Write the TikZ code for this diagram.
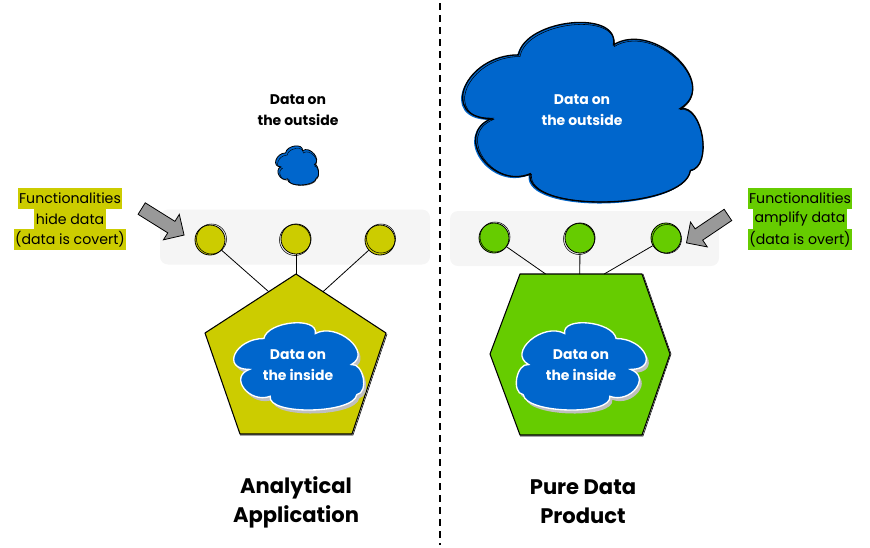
\documentclass[tikz,border=0pt]{standalone}
\usepackage{fontspec}
\setmainfont{Poppins}
\usetikzlibrary{shapes.arrows,calc}
\definecolor{ylw}{HTML}{CCCC00}
\definecolor{grn}{HTML}{66CC00}
\definecolor{dblue}{HTML}{0066CC}
\definecolor{panel}{HTML}{F5F5F5}
\definecolor{arrg}{HTML}{999999}
\def\cloudpath{(-0.773,0.067) .. controls (-1.228,0.067) and (-1.0,-0.644) .. (-0.545,-0.644)
 .. controls (-0.492,-1.044) and (0.317,-1.157) .. (0.264,-0.757)
 .. controls (0.607,-1.03) and (1.175,-0.318) .. (0.832,-0.045)
 .. controls (1.025,-0.088) and (1.111,0.605) .. (0.918,0.648)
 .. controls (0.87,1.092) and (-0.494,1.129) .. (-0.446,0.685)
 .. controls (-0.776,0.86) and (-1.103,0.242) .. (-0.773,0.067) -- cycle}
\tikzset{
  panelbox/.style={fill=panel,draw=none,rounded corners=6pt},
  func/.style={circle,draw=black,line width=0.6pt,minimum size=30*0.75pt,inner sep=0pt},
  link/.style={draw=black,line width=0.6pt},
  polyshape/.style={draw=black,line width=0.8pt,line join=round},
  cloudtxt/.style={text=white,font=\bfseries\fontsize{10.5}{15.5}\selectfont,align=center,inner sep=0pt},
  lbl/.style={font=\fontsize{10.6}{12}\selectfont,inner xsep=1pt,inner ysep=0pt,minimum height=20.5*0.75pt,text=black},
  title/.style={font=\bfseries\fontsize{15.8}{21.75}\selectfont,align=center},
  fatarrow/.style={single arrow,fill=arrg,draw=black,line width=0.6pt,minimum height=50*0.75pt,minimum width=30*0.75pt,single arrow head extend=4pt,inner sep=3pt},
}
\begin{document}
\begin{tikzpicture}[x=0.75pt,y=-0.75pt]
\useasboundingbox (0,0) rectangle (870,547);
% divider
\draw[line width=1pt,dash pattern=on 5pt off 4pt] (440,3) coordinate (dtop) -- (440,545) coordinate (dbot);

% ---------- left ----------
\node[panelbox,minimum width=270*0.75pt,minimum height=55*0.75pt] (lpanel) at (295,237) {};
\coordinate (pA) at (296,274);
\coordinate (pR) at (386,333);
\coordinate (pBR) at (352,434);
\coordinate (pBL) at (240,434);
\coordinate (pL) at (205,333);
\draw[polyshape,fill=ylw] (pA) -- (pR) -- (pBR) -- (pBL) -- (pL) -- cycle;
\draw[black,line width=0.4pt] ($(pR)+(1,1)$) -- ($(pBR)+(1,1)$) -- ($(pBL)+(0,1)$);
\node[func,fill=ylw] (l1) at (210,240) {};
\node[func,fill=ylw] (l2) at (296,239) {};
\node[func,fill=ylw] (l3) at (380,240) {};
\draw[black,line width=0.4pt] ($(l1)+(1.5,-1)$) circle (15);
\draw[black,line width=0.4pt] ($(l2)+(-1,1)$) circle (15.5);
\draw[black,line width=0.4pt] ($(l3)+(1,-1.5)$) circle (14.5);
\draw[link] (l1) -- ($(pA)!0.3!(pL)$);
\draw[link] (l2) -- (pA);
\draw[link] (l3) -- ($(pA)!0.3!(pR)$);
% inner cloud
\begin{scope}[shift={(301,370)},xscale=63.5,yscale=43.5]
  \fill[black!25] \cloudpath;
\end{scope}
\begin{scope}[shift={(298.5,366.5)},xscale=63.5,yscale=43.5]
  \filldraw[fill=dblue,draw=white,line width=1pt] \cloudpath;
\end{scope}
\node[cloudtxt] (lin) at (298,365) {Data on\\the inside};
% small outside cloud
\begin{scope}[shift={(297,165.5)},xscale=21,yscale=19.5]
  \filldraw[fill=dblue,draw=black,line width=0.6pt] \cloudpath;
\end{scope}
\begin{scope}[shift={(298,167)},xscale=20,yscale=18.5]
  \draw[black,line width=0.3pt] \cloudpath;
\end{scope}
\node[font=\bfseries\fontsize{10.5}{15.75}\selectfont,align=center] (louttxt) at (298,110) {Data on\\the outside};
\node[lbl,fill=ylw] (la1) at (70,198.5) {Functionalities};
\node[lbl,fill=ylw] (la2) at (70,219) {hide data};
\node[lbl,fill=ylw] (la3) at (70,239.5) {(data is covert)};
\node[fatarrow,rotate=-32] (larr) at (160,220) {};
\node[title] (ltitle) at (296,502) {Analytical\\Application};

% ---------- right ----------
\node[panelbox,minimum width=269*0.75pt,minimum height=55*0.75pt] (rpanel) at (584.5,238.5) {};
\coordinate (hTL) at (520,274);
\coordinate (hTR) at (642,274);
\coordinate (hR) at (670,354);
\coordinate (hBR) at (642,435);
\coordinate (hBL) at (520,435);
\coordinate (hL) at (490,354);
\draw[polyshape,fill=grn] (hTL) -- (hTR) -- (hR) -- (hBR) -- (hBL) -- (hL) -- cycle;
\draw[black,line width=0.4pt] ($(hTR)+(1,0)$) -- ($(hR)+(1,0)$) -- ($(hBR)+(1,1)$) -- ($(hBL)+(0,1)$);
\node[func,fill=grn] (r1) at (494,238) {};
\node[func,fill=grn] (r2) at (580,238) {};
\node[func,fill=grn] (r3) at (666,238) {};
\draw[black,line width=0.4pt] ($(r1)+(1,-1)$) circle (15);
\draw[black,line width=0.4pt] ($(r2)+(-1,1)$) circle (15.5);
\draw[black,line width=0.4pt] ($(r3)+(1,1)$) circle (14.5);
\draw[link] (r1) -- ($(hTL)!0.21!(hTR)$);
\draw[link] (r2) -- ($(hTL)!0.49!(hTR)$);
\draw[link] (r3) -- ($(hTL)!0.69!(hTR)$);
% inner cloud
\begin{scope}[shift={(584,370)},xscale=-63.5,yscale=43.5]
  \fill[black!25] \cloudpath;
\end{scope}
\begin{scope}[shift={(581.5,366.5)},xscale=-63.5,yscale=43.5]
  \filldraw[fill=dblue,draw=white,line width=1pt] \cloudpath;
\end{scope}
\node[cloudtxt] (rin) at (581,365) {Data on\\the inside};
% big outside cloud
\begin{scope}[shift={(581,114)},xscale=117.5,yscale=89.5]
  \fill[dblue] \cloudpath;
\end{scope}
\begin{scope}[shift={(582.5,112.5)},xscale=117.5,yscale=89.5]
  \filldraw[fill=dblue,draw=black,line width=1pt] \cloudpath;
\end{scope}
\begin{scope}[shift={(583.5,113.5)},xscale=116.5,yscale=88.5]
  \draw[black,line width=0.4pt] \cloudpath;
\end{scope}
\node[cloudtxt] (routtxt) at (582,110) {Data on\\the outside};
\node[lbl,fill=grn] (ra1) at (800,198.5) {Functionalities};
\node[lbl,fill=grn] (ra2) at (800,219) {amplify data};
\node[lbl,fill=grn] (ra3) at (800,239.5) {(data is overt)};
\node[fatarrow,rotate=-146] (rarr) at (710,227) {};
\node[title] (rtitle) at (583,502) {Pure Data\\Product};
\end{tikzpicture}
\end{document}
